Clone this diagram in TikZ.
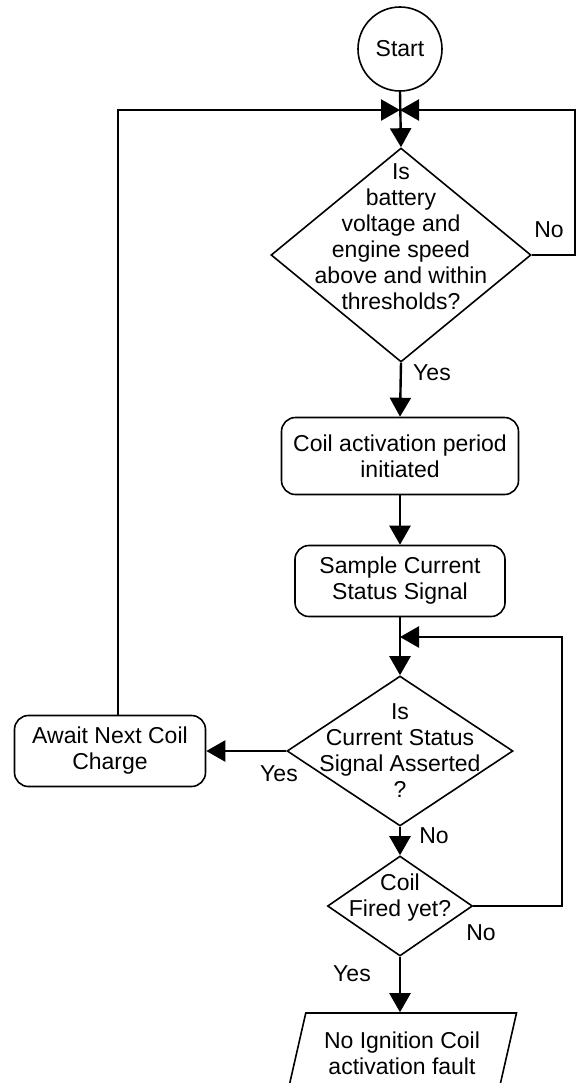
\documentclass[tikz,border=0pt]{standalone}
\usepackage{fontspec}
\setmainfont{Liberation Sans}
\usetikzlibrary{shapes.geometric,arrows.meta}

\begin{document}
\begin{tikzpicture}[x=0.5pt,y=-0.5pt,
        font=\fontsize{11.5}{13}\selectfont,
        box/.style={draw,line width=0.8pt,rounded corners=7pt,align=center},
        decision/.style={draw,diamond,line width=0.8pt,inner sep=0pt},
        qtext/.style={align=center,inner sep=0pt},
        fault/.style={draw,trapezium,trapezium left angle=72,trapezium right angle=108,
            trapezium stretches body,line width=0.8pt,align=center},
        lbl/.style={inner sep=0pt},
        flow/.style={line width=1.2pt,-{Triangle[length=9.5pt,width=10.5pt]}}]
        \path[use as bounding box,fill=white] (0,0) rectangle (577,1083);
        \clip (0,0) rectangle (577,1083);

        \node[draw,circle,line width=0.8pt,minimum size=42pt] (start) at (400,49) {Start};
        \node[decision,minimum width=130pt,minimum height=107pt,
            label={[qtext,yshift=9pt]center:{Is\\battery\\voltage and\\engine speed\\above and within\\thresholds?}}] (check) at (401,255) {};
        \node[box,minimum width=118.5pt,minimum height=38.5pt] (coilon) at (400,456) {Coil activation period\\initiated};
        \node[box,minimum width=105pt,minimum height=35.5pt] (sample) at (400,581) {Sample Current\\Status Signal};
        \node[decision,minimum width=113pt,minimum height=75pt,
            label={[qtext]center:{Is\\Current Status\\Signal Asserted\\?}}] (asserted) at (400,751) {};
        \node[box,minimum width=95.5pt,minimum height=35.5pt] (await) at (110,751) {Await Next Coil\\Charge};
        \node[decision,minimum width=72.5pt,minimum height=50pt,
            label={[qtext,yshift=4pt]center:{Coil\\Fired yet?}}] (fired) at (400,906) {};
        \node[fault,minimum width=114.5pt,minimum height=40pt] (nofault) at (402,1053) {No Ignition Coil\\activation fault};

        \coordinate (j1) at (400,110);
        \coordinate (r1) at (575,110);
        \coordinate (j2) at (400,637);
        \coordinate (r2) at (562,637);

        \draw[flow] (start.south) -- (check.north);
        \draw[flow] (check.east) -| (r1) -- (j1);
        \draw[flow] ([xshift=4pt]await.north) |- (j1);
        \draw[flow] (check.south) -- (coilon.north);
        \draw[flow] (coilon) -- (sample);
        \draw[flow] (sample) -- (asserted);
        \draw[flow] (asserted) -- (await);
        \draw[flow] (asserted) -- (fired);
        \draw[flow] (fired.east) -| (r2) -- (j2);
        \draw[flow] (fired.south) -- (fired.south |- nofault.north);

        \node[lbl] (no1) at (549,230) {No};
        \node[lbl] (yes1) at (432,373) {Yes};
        \node[lbl] (yes2) at (279,774) {Yes};
        \node[lbl] (no2) at (434,836) {No};
        \node[lbl] (no3) at (481,933) {No};
        \node[lbl] (yes3) at (352,974) {Yes};
    \end{tikzpicture}
\end{document}
